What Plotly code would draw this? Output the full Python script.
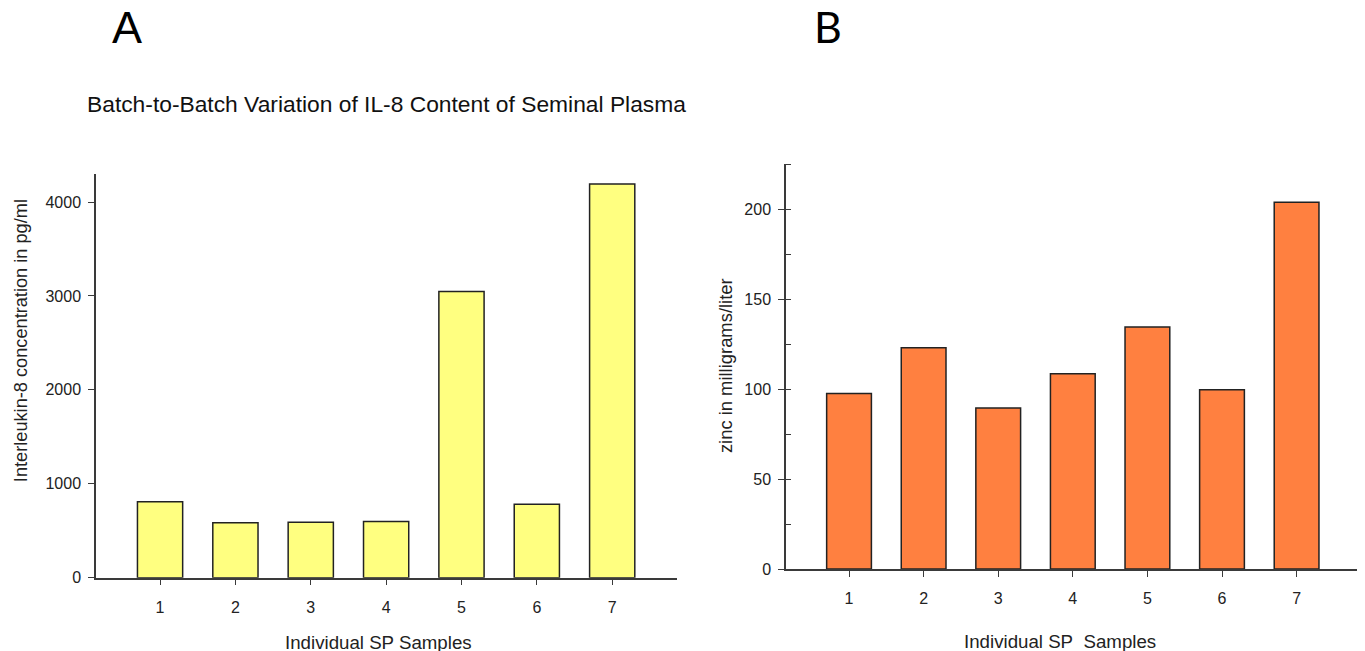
import plotly.graph_objects as go

samples = [1, 2, 3, 4, 5, 6, 7]
il8_pg_ml = [808, 585, 591, 598, 3047, 782, 4192]
zinc_mg_l = [97.6, 123.1, 89.6, 108.7, 134.6, 99.8, 204.0]
il8_ticks = [0, 1000, 2000, 3000, 4000]
zinc_ticks = [0, 50, 100, 150, 200]

# page shows the figure offset by the 8px body margin (and slightly squeezed vertically)
OFF = 8
VS = 0.9875
W, H = 1357, 651
FONT = "Liberation Sans, Arial, sans-serif"
AX = "#3a3a3a"

def px(x):
    return min(1.0, max(0.0, (x - OFF) / W))

def py(y):
    return min(1.0, max(0.0, 1 - (y / VS - OFF) / H))

fig = go.Figure()
fig.add_trace(go.Bar(x=samples, y=il8_pg_ml, width=0.6, xaxis="x", yaxis="y",
                     marker=dict(color="#FFFF80", line=dict(color="#222222", width=1.5)),
                     showlegend=False))
fig.add_trace(go.Bar(x=samples, y=zinc_mg_l, width=0.6, xaxis="x2", yaxis="y2",
                     marker=dict(color="#FF8040", line=dict(color="#222222", width=1.5)),
                     showlegend=False))

common_x = dict(tickmode="array", tickvals=samples, ticks="outside", ticklen=6,
                tickcolor=AX, showline=True, linecolor=AX, linewidth=1.5,
                showgrid=False, zeroline=False, ticklabelstandoff=8,
                tickfont=dict(family=FONT, size=16, color="#222"))
common_y = dict(ticks="outside", ticklen=6, tickcolor=AX, showline=True,
                linecolor=AX, linewidth=1.5, showgrid=False, zeroline=False,
                ticklabelstandoff=4, tickfont=dict(family=FONT, size=16, color="#222"))

fig.update_layout(
    width=W, height=H, margin=dict(l=0, r=0, t=0, b=0),
    paper_bgcolor="white", plot_bgcolor="white",
    xaxis=dict(domain=[px(96), px(677)], range=[0.15, 7.86], anchor="y", **common_x),
    yaxis=dict(domain=[py(578.3), py(174)], range=[0, 4300], tickvals=il8_ticks,
               anchor="x", **common_y),
    xaxis2=dict(domain=[px(786), px(1360)], range=[0.155, 7.85], anchor="y2", **common_x),
    yaxis2=dict(domain=[py(569.7), py(164)], range=[0, 225.4], tickvals=zinc_ticks,
                anchor="x2",
                minor=dict(dtick=25, tick0=0, ticks="inside", ticklen=5, tickcolor=AX),
                **common_y),
    bargap=0.4,
)

ann = [
    dict(text="A", x=px(127), y=py(27), font=dict(family=FONT, size=45, color="black"),
         xanchor="center", yanchor="middle"),
    dict(text="B", x=px(828.5), y=py(26.5), font=dict(family="Lato, Open Sans, sans-serif", size=43, color="black"),
         xanchor="center", yanchor="middle"),
    dict(text="Batch-to-Batch Variation of IL-8 Content of Seminal Plasma", x=px(85),
         y=py(104), font=dict(family=FONT, size=22.8, color="#111"),
         xanchor="left", yanchor="middle"),
    dict(text="Individual SP Samples", x=px(378), y=py(643),
         font=dict(family=FONT, size=18.7, color="#222"), xanchor="center", yanchor="middle"),
    dict(text="Individual SP&nbsp;&nbsp;Samples", x=px(1059.5), y=py(642),
         font=dict(family=FONT, size=18.7, color="#222"), xanchor="center", yanchor="middle"),
    dict(text="Interleukin-8 concentration in pg/ml", x=px(21), y=py(341.5), textangle=-90,
         font=dict(family=FONT, size=18.2, color="#222"), xanchor="center", yanchor="middle"),
    dict(text="zinc in milligrams/liter", x=px(725), y=py(366.5), textangle=-90,
         font=dict(family=FONT, size=18.4, color="#222"), xanchor="center", yanchor="middle"),
]
for a in ann:
    a.update(xref="paper", yref="paper", showarrow=False)
fig.update_layout(annotations=ann)

fig.write_html("out.html")
